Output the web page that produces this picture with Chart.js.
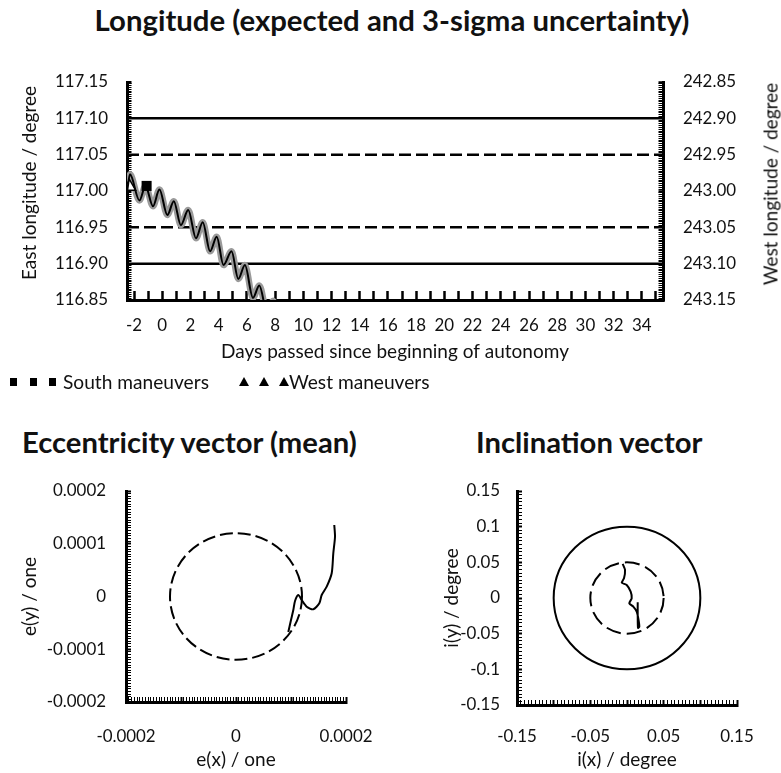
<!DOCTYPE html>
<html>
<head>
<meta charset="utf-8">
<script src="https://cdn.jsdelivr.net/npm/chart.js@4.4.0/dist/chart.umd.min.js"></script>
<style>
html,body{margin:0;padding:0;background:#fff;}
#page{position:relative;width:781px;height:773px;overflow:hidden;background:#fff;color:#111;font-family:Lato,"Noto Sans",sans-serif;}
.abs{position:absolute;white-space:nowrap;}
canvas{display:block;}
.sq{position:absolute;width:7px;height:8px;background:#000;}
.tri{position:absolute;width:10px;height:9px;background:#000;clip-path:polygon(50% 0,100% 100%,0 100%);}
</style>
</head>
<body>
<div id="page">
  <div id="t1" class="abs" style="font-weight:bold">Longitude (expected and 3-sigma uncertainty)</div>
  <div class="abs" style="left:0;top:50px;width:781px;height:320px"><canvas id="lon" width="781" height="320"></canvas></div>
  <div id="eTitle" class="abs">East longitude / degree</div>
  <div id="wTitle" class="abs">West longitude / degree</div>

  <div class="sq" style="left:10px;top:378px"></div>
  <div class="sq" style="left:30px;top:378px"></div>
  <div class="sq" style="left:49px;top:378px"></div>
  <div id="lgS" class="abs">South maneuvers</div>
  <div class="tri" style="left:239px;top:377px"></div>
  <div class="tri" style="left:259px;top:377px"></div>
  <div class="tri" style="left:279px;top:377px"></div>
  <div id="lgW" class="abs">West maneuvers</div>

  <div id="t2" class="abs" style="font-weight:bold">Eccentricity vector (mean)</div>
  <div id="t3" class="abs" style="font-weight:bold">Inclination vector</div>
  <div class="abs" style="left:0;top:470px;width:390px;height:303px"><canvas id="ecc" width="390" height="303"></canvas></div>
  <div class="abs" style="left:390px;top:470px;width:391px;height:303px"><canvas id="inc" width="391" height="303"></canvas></div>
</div>
<script>
// ---------------- data ----------------
const days    = [-2.48,-2.29,-1.62,-1.19,-0.66,-0.20,0.36,0.82,1.32,1.84,2.39,2.87,3.39,3.86,4.34,4.91,5.39,5.86,6.43,6.88,7.43,7.86,8.40,8.90];
const eastLon = [117.001,117.023,116.987,117.007,116.979,117.002,116.967,116.986,116.953,116.974,116.935,116.957,116.917,116.937,116.898,116.917,116.879,116.898,116.853,116.870,116.833,116.849,116.815,116.830];
const southDays = [-1.11];
const southLon  = [117.007];
const westDays  = [-2.32];
const westLon   = [117.006];
const solidLimits  = [117.10, 116.90];
const dashedLimits = [117.05, 116.95];
const dayRange  = [-2.5, 35.5];
const eastRange = [116.85, 117.15];
const westRange = [242.85, 243.15];
const dayTicks  = [-2,0,2,4,6,8,10,12,14,16,18,20,22,24,26,28,30,32,34];
const eastTicks = [116.85,116.90,116.95,117.00,117.05,117.10,117.15];
const westTicks = [242.85,242.90,242.95,243.00,243.05,243.10,243.15];
const westMajorMarks = [242.85,243.00,243.15];

const eccX = [0.0000951,0.0001000,0.0001042,0.0001073,0.0001133,0.0001195,0.0001285,0.0001405,0.0001515,0.0001558,0.0001649,0.0001740,0.0001769,0.0001800,0.0001787];
const eccY = [-0.0000673,-0.0000445,-0.0000256,-0.0000085,0.0000028,-0.0000066,-0.0000193,-0.0000243,-0.0000129,0.0000028,0.0000186,0.0000440,0.0000819,0.0001134,0.0001355];
const eccRadius = 0.00012;
const eccRange  = [-0.0002, 0.0002];
const eccXTicks = [-0.0002, 0, 0.0002];
const eccYTicks = [-0.0002,-0.0001,0,0.0001,0.0002];

const incX = [-0.0059,-0.0027,-0.0041,-0.0072,-0.0004,0.0050,0.0064,0.0031,0.0086,0.0132,0.0154,0.0168,0.0150,0.0146,0.0146];
const incY = [0.0477,0.0393,0.0276,0.0214,0.0182,0.0088,-0.0004,-0.0074,-0.0122,-0.0192,-0.0285,-0.0402,-0.0420,-0.0250,-0.0060];
const incOuterRadius = 0.1;
const incInnerRadius = 0.05;
const incRange  = [-0.15, 0.15];
const incXTicks = [-0.15,-0.05,0.05,0.15];
const incYTicks = [-0.15,-0.1,-0.05,0,0.05,0.1,0.15];

// ---------------- fonts / sizes ----------------
const FAM = 'Lato';
function fitSize(text, weight, target){
  const c = document.createElement('canvas').getContext('2d');
  c.font = weight + ' 100px ' + FAM;
  return 100 * target / c.measureText(text).width;
}
const axisFs  = fitSize('Days passed since beginning of autonomy', 'normal', 348);
const tickFs  = fitSize('117.15', 'normal', 53);
const titleFs = fitSize('Longitude (expected and 3-sigma uncertainty)', 'bold', 595);
const subFs   = fitSize('Eccentricity vector (mean)', 'bold', 337);
const legFs   = fitSize('South maneuvers', 'normal', 146);
const LH = axisFs * 1.2;
const TLH = tickFs * 1.2;

function place(id, left, cy, fs, centerX){
  const el = document.getElementById(id);
  el.style.fontSize = fs + 'px';
  el.style.lineHeight = fs + 'px';
  el.style.top = (cy - 0.527 * fs) + 'px';
  el.style.left = left + 'px';
  if (centerX) el.style.transform = 'translateX(-50%)';
}
place('t1', 392, 20, titleFs, true);
place('t2', 22, 442, subFs, false);
place('t3', 476, 442, subFs, false);
place('lgS', 63, 382, legFs, false);
place('lgW', 289, 382, legFs, false);
function placeVert(id, cx, cy, fs){
  const el = document.getElementById(id);
  el.style.fontSize = fs + 'px';
  el.style.lineHeight = fs + 'px';
  el.style.left = cx + 'px';
  el.style.top = cy + 'px';
  el.style.transform = 'translate(-50%,-50%) rotate(-90deg)';
}
placeVert('eTitle', 28.5, 183, axisFs);
placeVert('wTitle', 770, 184, axisFs);

Chart.defaults.font.family = FAM;
Chart.defaults.font.size = axisFs;
Chart.defaults.color = '#111';

// ---------------- helpers ----------------
function stepValues(min, max, step){
  const out = [];
  const k0 = Math.ceil(min / step - 1e-6), k1 = Math.floor(max / step + 1e-6);
  for (let k = k0; k <= k1; k++) out.push(k * step);
  return out;
}
const isIn = (arr, v, eps) => arr.some(t => Math.abs(t - v) < eps);
// inward tick marks drawn by the library (negative tick length)
function inwardGrid(len, widthFn){
  return {display:true, drawOnChartArea:false, drawTicks:true, tickLength:-len,
          tickColor:'#000', color:'rgba(0,0,0,0)', tickWidth: widthFn};
}
function makeCircles(items){
  return {
    id: 'circles',
    beforeDatasetsDraw(chart){
      const ctx = chart.ctx, xs = chart.scales.x, ys = chart.scales.y;
      items.forEach(c => {
        const cx = xs.getPixelForValue(0), cy = ys.getPixelForValue(0);
        const rx = Math.abs(xs.getPixelForValue(c.r) - cx);
        const ry = Math.abs(ys.getPixelForValue(c.r) - cy);
        ctx.save();
        ctx.strokeStyle = '#000';
        ctx.lineWidth = c.width;
        ctx.setLineDash(c.dash);
        ctx.beginPath();
        ctx.ellipse(cx, cy, rx, ry, 0, 0, Math.PI * 2);
        ctx.stroke();
        ctx.restore();
      });
    }
  };
}

const axisBorder = {display:true, color:'#000', width:3};
const fmt = v => String(Number(v.toFixed(6)));
const tickFont = {size: tickFs, family: FAM};
const fixX = h => s => { s.height = h; s.paddingLeft = 0; s.paddingRight = 0; };
const fixY = w => s => { s.width = w; s.paddingTop = 0; s.paddingBottom = 0; };
const setTicks = vals => s => { s.ticks = vals.map(v => ({value:v})); };

// ---------------- longitude chart ----------------
const lonPts = days.map((d,i) => ({x:d, y:eastLon[i]}));
const limitDs = (v, dash) => ({
  data: [{x:dayRange[0], y:v}, {x:dayRange[1], y:v}],
  borderColor:'#000', borderWidth:2.5, borderDash:dash, pointRadius:0, order:9, clip:0
});
const dayMarks  = stepValues(dayRange[0], dayRange[1], 1);
const eastMarks = stepValues(eastRange[0], eastRange[1], 0.0025);
const westMarks = stepValues(westRange[0], westRange[1], 0.0025);
const LADDER = 4.5, DAYLEN = 9;
new Chart(document.getElementById('lon'), {
  type: 'line',
  data: { datasets: [
    {label:'3-sigma', data: lonPts, borderColor:'#9a9a9a', borderWidth:6.5, pointRadius:0, cubicInterpolationMode:'monotone', order:8, clip:0},
    {label:'West maneuvers', data: westDays.map((d,i)=>({x:d,y:westLon[i]})), showLine:false, pointStyle:'triangle', pointRadius:7, pointBackgroundColor:'#fff', pointBorderColor:'#000', pointBorderWidth:1.5, order:5, clip:0},
    {label:'expected', data: lonPts, borderColor:'#000', borderWidth:2, pointRadius:0, cubicInterpolationMode:'monotone', order:2, clip:0},
    {label:'South maneuvers', data: southDays.map((d,i)=>({x:d,y:southLon[i]})), showLine:false, pointStyle:'rect', pointRadius:7.1, pointBackgroundColor:'#000', pointBorderColor:'#000', pointBorderWidth:0, order:1, clip:0},
    limitDs(solidLimits[0], []), limitDs(solidLimits[1], []),
    limitDs(dashedLimits[0], [12,5]), limitDs(dashedLimits[1], [12,5])
  ]},
  options: {
    responsive:false, animation:false, devicePixelRatio:1,
    layout:{padding:{top:32,left:0,right:0,bottom:0}},
    plugins:{legend:{display:false}, tooltip:{enabled:false}},
    scales:{
      x:{type:'linear', position:'bottom', min:dayRange[0], max:dayRange[1],
        afterBuildTicks: setTicks(dayMarks),
        afterFit: fixX(70),
        grid: inwardGrid(DAYLEN, () => 2.5), border:axisBorder,
        ticks:{padding:26 - TLH/2 + DAYLEN, font:tickFont, autoSkip:false, maxRotation:0,
               callback: v => isIn(dayTicks, v, 1e-6) ? String(v) : ''},
        title:{display:true, text:'Days passed since beginning of autonomy', padding:{top:0,bottom:18 - LH/2}}},
      y:{type:'linear', position:'left', min:eastRange[0], max:eastRange[1],
        afterBuildTicks: setTicks(eastMarks),
        afterFit: fixY(127),
        grid: inwardGrid(LADDER, c => (c.tick && Math.abs(c.tick.value - eastRange[1]) < 1e-6) ? 3 : 1), border:axisBorder,
        ticks:{padding:19 + LADDER, font:tickFont, autoSkip:false,
               callback: v => isIn(eastTicks, v, 1e-6) ? v.toFixed(2) : ''}},
      y2:{type:'linear', position:'right', min:westRange[0], max:westRange[1], reverse:true,
        afterBuildTicks: setTicks(westMarks),
        afterFit: fixY(118),
        grid: inwardGrid(LADDER, c => (c.tick && isIn(westMajorMarks, c.tick.value, 1e-6)) ? 2.5 : 1), border:axisBorder,
        ticks:{padding:20 + LADDER, font:tickFont, autoSkip:false,
               callback: v => isIn(westTicks, v, 1e-6) ? v.toFixed(2) : ''}}
    }
  }
});

// ---------------- eccentricity chart ----------------
const eccMarks = stepValues(eccRange[0], eccRange[1], 0.000005);
const eccMajor = c => (c.tick && Math.abs(c.tick.value / 0.0001 - Math.round(c.tick.value / 0.0001)) < 1e-4) ? 2 : 1;
const BLEN = 5;
new Chart(document.getElementById('ecc'), {
  type:'scatter',
  data:{datasets:[{label:'e', data: eccX.map((x,i)=>({x, y:eccY[i]})), showLine:true, borderColor:'#000', borderWidth:2, pointRadius:0, tension:0.25, clip:0}]},
  options:{
    responsive:false, animation:false, devicePixelRatio:1,
    layout:{padding:{top:21,left:0,right:44,bottom:0}},
    plugins:{legend:{display:false}, tooltip:{enabled:false}},
    scales:{
      x:{type:'linear', min:eccRange[0], max:eccRange[1],
        afterBuildTicks: setTicks(eccMarks),
        afterFit: fixX(71),
        grid: inwardGrid(BLEN, eccMajor), border:axisBorder,
        ticks:{padding:35 - TLH/2 + BLEN, font:tickFont, autoSkip:false, maxRotation:0,
               callback: v => isIn(eccXTicks, v, 1e-9) ? fmt(v) : ''},
        title:{display:true, text:'e(x) / one', padding:{top:0,bottom:13 - LH/2}}},
      y:{type:'linear', min:eccRange[0], max:eccRange[1],
        afterBuildTicks: setTicks(eccMarks),
        afterFit: fixY(126),
        grid: inwardGrid(BLEN, eccMajor), border:axisBorder,
        ticks:{padding:20 + BLEN, font:tickFont, autoSkip:false,
               callback: v => isIn(eccYTicks, v, 1e-9) ? fmt(v) : ''},
        title:{display:true, text:'e(y) / one', padding:{top:30 - LH/2,bottom:0}}}
    }
  },
  plugins:[makeCircles([{r:eccRadius, dash:[13,5], width:2}])]
});

// ---------------- inclination chart ----------------
const incMarks = stepValues(incRange[0], incRange[1], 0.005);
const incMajor = c => (c.tick && Math.abs(c.tick.value / 0.05 - Math.round(c.tick.value / 0.05)) < 1e-4) ? 2 : 1;
new Chart(document.getElementById('inc'), {
  type:'scatter',
  data:{datasets:[{label:'i', data: incX.map((x,i)=>({x, y:incY[i]})), showLine:true, borderColor:'#000', borderWidth:2, pointRadius:0, tension:0.2, clip:0}]},
  options:{
    responsive:false, animation:false, devicePixelRatio:1,
    layout:{padding:{top:21,left:0,right:44,bottom:0}},
    plugins:{legend:{display:false}, tooltip:{enabled:false}},
    scales:{
      x:{type:'linear', min:incRange[0], max:incRange[1],
        afterBuildTicks: setTicks(incMarks),
        afterFit: fixX(68),
        grid: inwardGrid(BLEN, incMajor), border:axisBorder,
        ticks:{padding:32 - TLH/2 + BLEN, font:tickFont, autoSkip:false, maxRotation:0,
               callback: v => isIn(incXTicks, v, 1e-6) ? fmt(v) : ''},
        title:{display:true, text:'i(x) / degree', padding:{top:0,bottom:13 - LH/2}}},
      y:{type:'linear', min:incRange[0], max:incRange[1],
        afterBuildTicks: setTicks(incMarks),
        afterFit: fixY(127),
        grid: inwardGrid(BLEN, incMajor), border:axisBorder,
        ticks:{padding:17 + BLEN, font:tickFont, autoSkip:false,
               callback: v => isIn(incYTicks, v, 1e-6) ? fmt(v) : ''},
        title:{display:true, text:'i(y) / degree', padding:{top:62 - LH/2,bottom:0}}}
    }
  },
  plugins:[makeCircles([{r:incOuterRadius, dash:[], width:2},{r:incInnerRadius, dash:[15,6], width:2}])]
});
</script>
</body>
</html>
